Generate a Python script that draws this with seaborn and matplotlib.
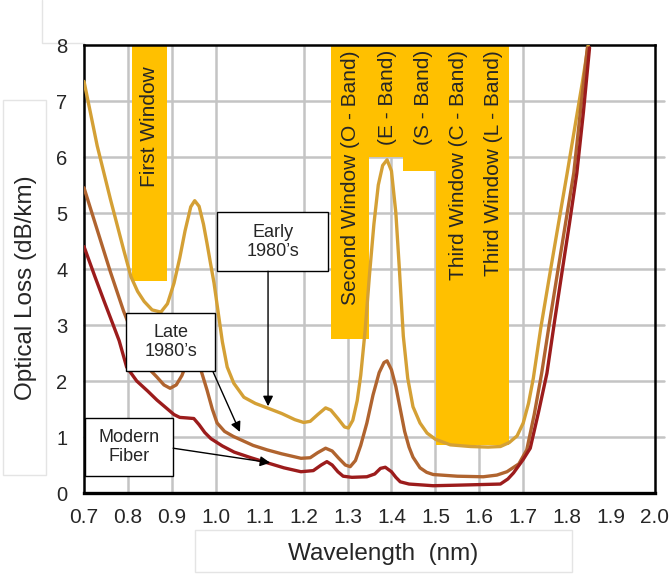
import numpy as np
import pandas as pd
import matplotlib.pyplot as plt
import seaborn as sns
from matplotlib.patches import Rectangle

# attenuation curves (wavelength, dB/km)
early_x = [0.70, 0.73, 0.76, 0.79, 0.807, 0.822, 0.837, 0.855, 0.875, 0.89, 0.905, 0.918, 0.93, 0.943,
           0.952, 0.962, 0.972, 0.98, 0.988, 0.996, 1.007, 1.015, 1.026, 1.041, 1.064, 1.09, 1.117, 1.15,
           1.18, 1.20, 1.215, 1.232, 1.25, 1.262, 1.278, 1.293, 1.302, 1.312, 1.322, 1.33, 1.34, 1.35,
           1.36, 1.37, 1.38, 1.39, 1.40, 1.41, 1.418, 1.427, 1.437, 1.449, 1.465, 1.481, 1.50, 1.534,
           1.58, 1.62, 1.648, 1.668, 1.686, 1.70, 1.712, 1.723, 1.74, 1.761, 1.78, 1.80, 1.82, 1.835, 1.848]
early_y = [7.35, 6.20, 5.25, 4.35, 3.86, 3.60, 3.42, 3.27, 3.23, 3.38, 3.75, 4.20, 4.68, 5.11,
           5.22, 5.12, 4.80, 4.46, 4.10, 3.75, 3.14, 2.70, 2.25, 1.96, 1.71, 1.60, 1.52, 1.42,
           1.31, 1.26, 1.28, 1.40, 1.52, 1.48, 1.33, 1.18, 1.16, 1.30, 1.65, 2.10, 2.90, 3.90,
           4.80, 5.50, 5.85, 5.95, 5.75, 5.00, 4.00, 2.80, 2.05, 1.54, 1.25, 1.07, 0.96, 0.86,
           0.83, 0.82, 0.83, 0.90, 1.02, 1.25, 1.60, 2.05, 2.95, 3.93, 4.80, 5.71, 6.65, 7.35, 8.0]

late_x = [0.70, 0.73, 0.76, 0.79, 0.81, 0.83, 0.85, 0.866, 0.882, 0.896, 0.91, 0.923, 0.935, 0.945,
          0.955, 0.966, 0.98, 0.992, 1.003, 1.02, 1.04, 1.057, 1.085, 1.117, 1.15, 1.194, 1.215, 1.232,
          1.25, 1.265, 1.28, 1.295, 1.306, 1.318, 1.33, 1.344, 1.358, 1.372, 1.383, 1.39, 1.40, 1.41,
          1.419, 1.43, 1.44, 1.449, 1.465, 1.48, 1.495, 1.55, 1.609, 1.64, 1.663, 1.69, 1.708, 1.725,
          1.742, 1.76, 1.778, 1.797, 1.815, 1.83, 1.846]
late_y = [5.45, 4.70, 3.95, 3.25, 2.85, 2.45, 2.20, 2.07, 1.93, 1.87, 1.93, 2.10, 2.35, 2.50,
          2.45, 2.20, 1.84, 1.50, 1.25, 1.10, 1.01, 0.95, 0.85, 0.77, 0.70, 0.62, 0.63, 0.72,
          0.80, 0.75, 0.62, 0.50, 0.47, 0.58, 0.85, 1.25, 1.75, 2.15, 2.33, 2.36, 2.20, 1.90,
          1.54, 1.10, 0.82, 0.64, 0.45, 0.37, 0.33, 0.30, 0.29, 0.32, 0.38, 0.52, 0.77, 1.40,
          2.14, 3.05, 3.93, 4.85, 5.71, 6.80, 7.95]

modern_x = [0.70, 0.725, 0.746, 0.765, 0.78, 0.797, 0.82, 0.845, 0.866, 0.89, 0.905, 0.918, 0.935, 0.95,
            0.962, 0.975, 0.989, 1.015, 1.042, 1.08, 1.117, 1.155, 1.194, 1.222, 1.24, 1.253, 1.265,
            1.278, 1.29, 1.31, 1.344, 1.362, 1.375, 1.386, 1.40, 1.41, 1.42, 1.44, 1.495, 1.55, 1.60,
            1.648, 1.665, 1.678, 1.70, 1.716, 1.735, 1.754, 1.771, 1.788, 1.805, 1.822, 1.837, 1.851]
modern_y = [4.40, 3.86, 3.42, 3.03, 2.72, 2.25, 2.00, 1.82, 1.66, 1.50, 1.40, 1.35, 1.34, 1.33,
            1.22, 1.08, 0.97, 0.84, 0.73, 0.63, 0.54, 0.45, 0.38, 0.40, 0.50, 0.56, 0.50,
            0.38, 0.30, 0.28, 0.29, 0.34, 0.44, 0.46, 0.38, 0.28, 0.20, 0.16, 0.13, 0.14, 0.15,
            0.16, 0.25, 0.36, 0.60, 0.80, 1.45, 2.14, 3.05, 3.93, 4.80, 5.71, 6.80, 7.95]

# transmission windows (orange blocks hanging from the top)
band_lo = [0.81, 1.263, 1.349, 1.427, 1.502]
band_hi = [0.89, 1.349, 1.427, 1.502, 1.668]
band_floor = [3.78, 2.75, 6.0, 5.75, 0.86]

label_x = [0.849, 1.306, 1.390, 1.472, 1.552, 1.632]
label_top = [7.62, 7.91, 7.91, 7.91, 7.91, 7.91]
label_txt = ["First Window", "Second Window (O - Band)", "(E - Band)", "(S - Band)",
             "Third Window (C - Band)", "Third Window (L - Band)"]

xticks = [0.7, 0.8, 0.9, 1.0, 1.1, 1.2, 1.3, 1.4, 1.5, 1.6, 1.7, 1.8, 1.9, 2.0]
vgrid = [0.8, 0.9, 1.0, 1.2, 1.3, 1.4, 1.5, 1.6, 1.7]
hgrid = [1, 2, 3, 4, 5, 6, 7]

sns.set_style("white")
plt.rcParams['font.family'] = ['Liberation Sans', 'DejaVu Sans']

fig = plt.figure(figsize=(6.7, 5.74), dpi=100)
ax = fig.add_axes([0.1254, 0.1411, 0.8522, 0.7805])

# grid drawn by hand: no 1.1 line and nothing past 1.7 in the original
for gx in vgrid:
    ax.axvline(gx, color="#c4c4c4", lw=1.8, zorder=0)
for gy in hgrid:
    ax.axhline(gy, xmin=0, xmax=1.015, color="#c4c4c4", lw=1.8, zorder=0, clip_on=False)

ax.bar(band_lo, [8 - f for f in band_floor], width=np.subtract(band_hi, band_lo),
       bottom=band_floor, align="edge", color="#FFC000", lw=0, zorder=1)

for x, top, txt in zip(label_x, label_top, label_txt):
    ax.text(x, top, txt, rotation=90, ha="center", va="top", fontsize=15, zorder=2)

df_early = pd.DataFrame({"x": early_x, "y": early_y})
df_late = pd.DataFrame({"x": late_x, "y": late_y})
df_modern = pd.DataFrame({"x": modern_x, "y": modern_y})
sns.lineplot(data=df_early, x="x", y="y", color="#D4A035", lw=2.4, ax=ax, zorder=3)
sns.lineplot(data=df_late, x="x", y="y", color="#B0642F", lw=2.4, ax=ax, zorder=3)
sns.lineplot(data=df_modern, x="x", y="y", color="#9C1C1C", lw=2.4, ax=ax, zorder=3)

# callout boxes with arrows
boxes = [((1.003, 3.96), 0.253, 1.06, "Early\n1980\u2019s", (1.119, 3.96), (1.119, 1.55)),
         ((0.796, 2.18), 0.202, 1.03, "Late\n1980\u2019s", (0.994, 2.16), (1.055, 1.09)),
         ((0.702, 0.30), 0.201, 1.04, "Modern\nFiber", (0.903, 0.80), (1.124, 0.54))]
for (bx, by), bw, bh, txt, start, tip in boxes:
    ax.add_patch(Rectangle((bx, by), bw, bh, facecolor="white", edgecolor="black", lw=1, zorder=5))
    ax.text(bx + bw / 2, by + bh / 2, txt, ha="center", va="center", fontsize=13,
            linespacing=1.15, zorder=6)
    ax.annotate("", xy=tip, xytext=start,
                arrowprops=dict(arrowstyle="-|>", color="black", lw=1, mutation_scale=15,
                                shrinkA=0, shrinkB=0), zorder=6)

ax.set_xlim(0.7, 2.0)
ax.set_ylim(0, 8)
ax.set_xticks(xticks)
ax.set_xticklabels([f"{t:.1f}" for t in xticks])
ax.set_yticks(range(0, 9))
ax.tick_params(axis="both", length=0)
ax.tick_params(axis="x", pad=11, labelsize=15)
ax.tick_params(axis="y", pad=12, labelsize=14.5)
for s in ax.spines.values():
    s.set_color("black")
    s.set_linewidth(1.8)
ax.spines["bottom"].set_linewidth(2.4)

ax.set_xlabel("Wavelength  (nm)", fontsize=17.5)
ax.set_ylabel("Optical Loss (dB/km)", fontsize=17.5)
ax.xaxis.set_label_coords(0.524, -0.112)
ax.yaxis.set_label_coords(-0.082, 0.458)

# faint leftover text-box outlines from the source slide
faint = "#e4e4e4"
fig.add_artist(Rectangle((3 / 670, 1 - 475 / 574), 43 / 670, 375 / 574, transform=fig.transFigure,
                         fill=False, edgecolor=faint, lw=1, zorder=-1))
fig.add_artist(Rectangle((195 / 670, 1 - 572 / 574), 377 / 670, 42 / 574, transform=fig.transFigure,
                         fill=False, edgecolor=faint, lw=1, zorder=-1))
fig.add_artist(plt.Line2D([42 / 670, 42 / 670, 84 / 670], [1, 1 - 43 / 574, 1 - 43 / 574],
                          transform=fig.transFigure, color=faint, lw=1, zorder=-1))

fig.savefig("out.png", dpi=100)
